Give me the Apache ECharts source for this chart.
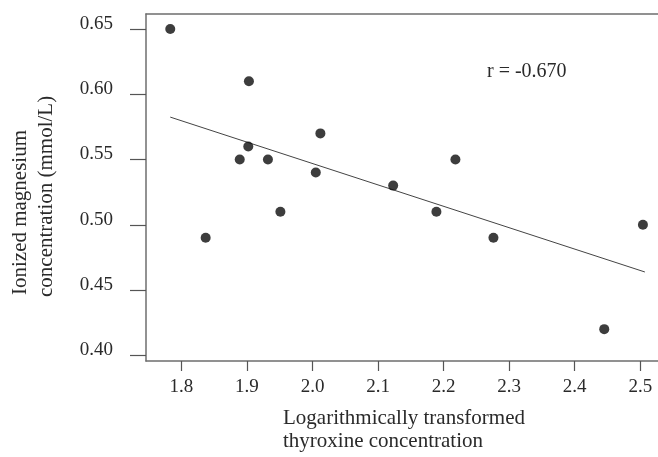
<!DOCTYPE html>
<html>
<head>
<meta charset="utf-8">
<script src="https://cdn.jsdelivr.net/npm/echarts@6/dist/echarts.min.js"></script>
<style>html,body{margin:0;padding:0;background:#fff;}#c{width:658px;height:457px;}</style>
</head>
<body>
<div id="c"></div>
<script>
const thyroxineLog = [1.783, 1.903, 1.902, 1.889, 1.932, 1.951, 2.005, 2.012, 2.123, 2.218, 2.189, 2.504, 1.837, 2.276, 2.445];
const ionizedMg   = [0.65, 0.61, 0.56, 0.55, 0.55, 0.51, 0.54, 0.57, 0.53, 0.55, 0.51, 0.50, 0.49, 0.49, 0.42];
const fitX = [1.783, 2.507];
const fitY = [0.5825, 0.4638];
const xTicks = [1.8, 1.9, 2.0, 2.1, 2.2, 2.3, 2.4, 2.5];
const yTicks = [0.40, 0.45, 0.50, 0.55, 0.60, 0.65];
const rLabel = 'r = -0.670';
const xTitle = ['Logarithmically transformed', 'thyroxine concentration'];
const yTitle = ['Ionized magnesium', 'concentration (mmol/L)'];

const FONT = '"Liberation Serif", "DejaVu Serif", serif';
const chart = echarts.init(document.getElementById('c'), null, {renderer: 'canvas'});
const axisColor = '#6e6e6e';
const textColor = '#2a2a2a';
chart.setOption({
  backgroundColor: '#fff',
  animation: false,
  grid: {left: 146, top: 14, right: 0, bottom: 96, containLabel: false},
  xAxis: [{
    type: 'value', min: 1.746, max: 2.527, position: 'bottom',
    axisLine: {show: true, lineStyle: {color: axisColor, width: 1.5}},
    axisTick: {show: true, length: 10, customValues: xTicks, lineStyle: {color: '#555', width: 1.2}},
    axisLabel: {customValues: xTicks, margin: 17, fontFamily: FONT, fontSize: 19, color: textColor,
      formatter: v => v.toFixed(1)},
    splitLine: {show: false}
  }, {
    type: 'value', min: 1.746, max: 2.527, position: 'top',
    axisLine: {show: true, onZero: false, lineStyle: {color: axisColor, width: 1.5}},
    axisTick: {show: false}, axisLabel: {show: false}, splitLine: {show: false}
  }],
  yAxis: {
    type: 'value', min: 0.3956, max: 0.6615,
    axisLine: {show: true, lineStyle: {color: axisColor, width: 1.5}},
    axisTick: {show: true, length: 16, customValues: yTicks, lineStyle: {color: '#555', width: 1.2}},
    axisLabel: {customValues: yTicks, margin: 33, fontFamily: FONT, fontSize: 19, color: textColor,
      verticalAlign: 'bottom', lineHeight: 10,
      formatter: v => v.toFixed(2)},
    splitLine: {show: false}
  },
  series: [{
    type: 'scatter',
    data: thyroxineLog.map((x, i) => [x, ionizedMg[i]]),
    symbol: 'circle', symbolSize: 10,
    itemStyle: {color: '#0d0d0d'},
    z: 3
  }, {
    type: 'line',
    data: fitX.map((x, i) => [x, fitY[i]]),
    symbol: 'none',
    lineStyle: {color: '#444', width: 1},
    z: 2
  }],
  graphic: [
    {type: 'text', left: 487, top: 62, style: {text: rLabel, font: '20px ' + FONT, fill: textColor}},
    {type: 'text', x: 283, y: 407, style: {text: xTitle.join('\n'), font: '21px ' + FONT, fill: textColor, lineHeight: 23, textAlign: 'left'}},
    {type: 'text', x: 10, y: 295, rotation: Math.PI / 2, style: {text: yTitle[0], font: '21px ' + FONT, fill: textColor, textAlign: 'left', textVerticalAlign: 'top'}},
    {type: 'text', x: 36, y: 297, rotation: Math.PI / 2, style: {text: yTitle[1], font: '21px ' + FONT, fill: textColor, textAlign: 'left', textVerticalAlign: 'top'}}
  ]
});
</script>
</body>
</html>
